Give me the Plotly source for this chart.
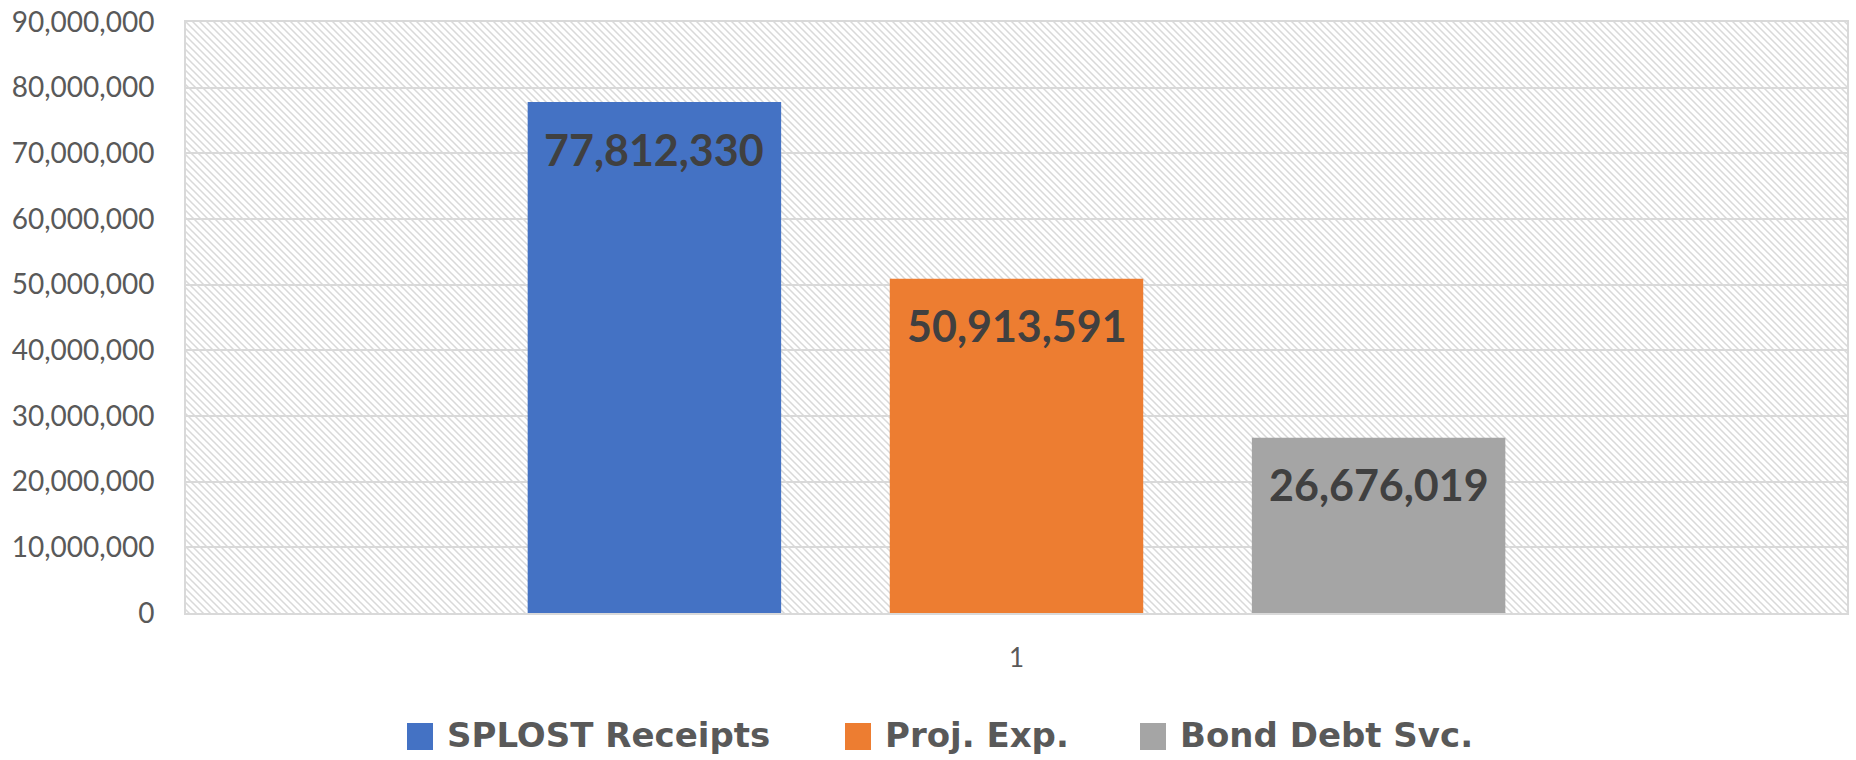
import base64
import plotly.graph_objects as go

# ---- data ----
categories = ["1"]
series_names = ["SPLOST Receipts", "Proj. Exp.", "Bond Debt Svc."]
series_values = [77812330, 50913591, 26676019]
series_colors = ["#4472C4", "#ED7D31", "#A5A5A5"]
y_ticks = [0, 10000000, 20000000, 30000000, 40000000, 50000000, 60000000, 70000000, 80000000, 90000000]

# ---- layout constants ----
W, H = 1856, 760
ML, MR, MT, MB = 186, 9, 22, 147
PW, PH = W - ML - MR, H - MT - MB
BARGAP = 0.346
BARGROUPGAP = 0.30
FONT = "Lato"
LEGEND_FONT = "DejaVu Sans"


def px_x(px):
    return (px - ML) / PW


def px_y(py):
    return (H - MB - py) / PH


# hatched plot background (Excel wide downward diagonal)
svg = f"""<svg xmlns='http://www.w3.org/2000/svg' width='{PW}' height='{PH}'>
<defs><pattern id='h' patternUnits='userSpaceOnUse' width='7' height='7'>
<rect width='7' height='7' fill='white'/>
<path d='M-1,-1 L8,8 M-1,6 L1,8 M6,-1 L8,1' stroke='#d9d9d9' stroke-width='1.5'/>
</pattern></defs>
<rect width='{PW}' height='{PH}' fill='url(#h)'/></svg>"""
bg_uri = "data:image/svg+xml;base64," + base64.b64encode(svg.encode()).decode()

fig = go.Figure()
for name, val, col in zip(series_names, series_values, series_colors):
    fig.add_trace(go.Bar(
        x=categories, y=[val], name=name, marker=dict(color=col, line=dict(width=0)),
        showlegend=False, hoverinfo="name+y",
    ))

# data labels (inside end of each bar)
n = len(series_values)
slot = (1 - BARGAP) / n
for i, val in enumerate(series_values):
    fig.add_annotation(
        x=(i - (n - 1) / 2) * slot, y=val, xref="x", yref="y",
        text=f"{val:,}", showarrow=False, yanchor="middle", yshift=-47,
        font=dict(family=FONT, size=43, color="#404040", weight="bold"),
    )

# custom legend with large swatches
legend_sq_left = [407, 845, 1140]
for name, col, sx in zip(series_names, series_colors, legend_sq_left):
    fig.add_shape(type="rect", xref="paper", yref="paper",
                  x0=px_x(sx), x1=px_x(sx + 26), y0=px_y(750), y1=px_y(723),
                  fillcolor=col, line=dict(width=0))
    fig.add_annotation(xref="paper", yref="paper", x=px_x(sx + 38), y=px_y(735),
                       xanchor="left", yanchor="middle", showarrow=False, text=name,
                       font=dict(family=LEGEND_FONT, size=34, color="#595959", weight="bold"))

fig.add_layout_image(dict(source=bg_uri, xref="paper", yref="paper", x=0, y=1,
                          sizex=1, sizey=1, sizing="stretch", layer="below",
                          xanchor="left", yanchor="top"))

fig.update_layout(
    width=W, height=H, barmode="group", bargap=BARGAP, bargroupgap=BARGROUPGAP,
    margin=dict(l=ML, r=MR, t=MT, b=MB, autoexpand=False),
    paper_bgcolor="white", plot_bgcolor="rgba(0,0,0,0)",
    showlegend=False, font=dict(family=FONT, color="#595959"),
)
fig.update_yaxes(
    range=[0, 90000000], tickvals=y_ticks, tickformat=",",
    showgrid=True, gridcolor="#d9d9d9", gridwidth=2,
    showline=True, linecolor="#d9d9d9", linewidth=2, mirror=True,
    zeroline=False, ticks="", ticklabelstandoff=24,
    tickfont=dict(family=FONT, size=28, color="#595959"),
)
fig.update_xaxes(
    type="category", showgrid=False,
    showline=True, linecolor="#d9d9d9", linewidth=2, mirror=True,
    ticks="", ticklabelstandoff=21,
    tickfont=dict(family=FONT, size=26, color="#595959"),
)

fig.write_html(
    "out.html",
    config={"displayModeBar": False},
    post_script="document.body.style.margin='0px';document.body.style.overflow='hidden';",
)
